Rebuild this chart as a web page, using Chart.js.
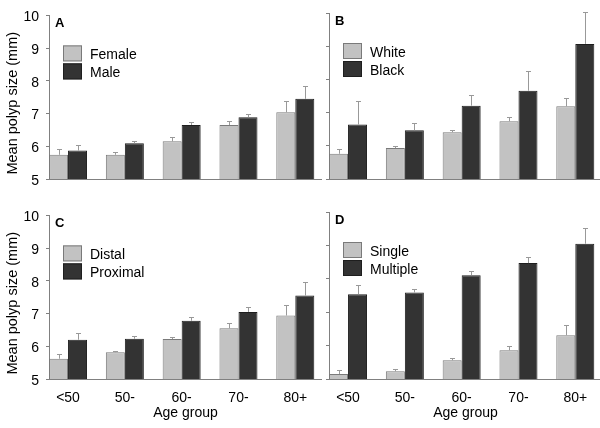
<!DOCTYPE html>
<html lang="en">
<head>
<meta charset="UTF-8">
<title>Mean polyp size by age group</title>
<script src="https://cdn.jsdelivr.net/npm/chart.js"></script>
<style>
  body { margin: 0; background: #fff; }
  .wrap { position: relative; width: 600px; height: 428px; overflow: hidden; }
  .wrap canvas { position: absolute; }
</style>
</head>
<body>
<div class="wrap">
  <canvas id="chartA" width="322" height="200" style="left:0;top:0"></canvas>
  <canvas id="chartB" width="322" height="200" style="left:280px;top:0"></canvas>
  <canvas id="chartC" width="322" height="228" style="left:0;top:200px"></canvas>
  <canvas id="chartD" width="322" height="228" style="left:280px;top:200px"></canvas>
</div>

<script>
const ageGroups = ['<50', '50-', '60-', '70-', '80+'];

// A: sex
const femaleMean = [5.74, 5.74, 6.15, 6.65, 7.04];
const femaleErr = [0.18, 0.10, 0.12, 0.12, 0.33];
const maleMean = [5.87, 6.09, 6.65, 6.89, 7.45];
const maleErr = [0.17, 0.08, 0.09, 0.11, 0.38];

// B: race
const whiteMean = [5.76, 5.93, 6.41, 6.74, 7.19];
const whiteErr = [0.13, 0.05, 0.06, 0.12, 0.24];
const blackMean = [6.64, 6.47, 7.21, 7.66, 9.07];
const blackErr = [0.70, 0.21, 0.31, 0.59, 0.97];

// C: location
const distalMean = [5.62, 5.82, 6.22, 6.55, 6.94];
const distalErr = [0.15, 0.04, 0.06, 0.15, 0.33];
const proximalMean = [6.20, 6.23, 6.78, 7.05, 7.55];
const proximalErr = [0.20, 0.09, 0.10, 0.15, 0.40];

// D: number of polyps
const singleMean = [5.15, 5.23, 5.56, 5.86, 6.31];
const singleErr = [0.12, 0.06, 0.06, 0.12, 0.30];
const multipleMean = [7.54, 7.59, 8.11, 8.47, 9.05];
const multipleErr = [0.27, 0.10, 0.13, 0.18, 0.47];

const LIGHT = '#c2c2c2', LIGHT_EDGE = '#7a7a7a';
const DARK = '#333333', DARK_EDGE = '#1e1e1e';
const AXIS = '#808080';

Chart.defaults.font.family = 'Arial, "Liberation Sans", sans-serif';
Chart.defaults.font.size = 14;
Chart.defaults.color = '#000';

function toPoints(values) {
    return values.map((v, i) => ({ x: i, y: v }));
}

function extras(letter) {
    return {
        id: 'extras' + letter,
        afterDatasetsDraw(chart) {
            // error bars (upper half only)
            const { ctx } = chart;
            const y = chart.scales.y;
            ctx.save();
            ctx.strokeStyle = '#999';
            ctx.lineWidth = 1;
            chart.data.datasets.forEach((ds, i) => {
                chart.getDatasetMeta(i).data.forEach((bar, j) => {
                    const x = Math.round(bar.x) + 0.5;
                    const y0 = y.getPixelForValue(ds.data[j].y);
                    const y1 = Math.round(y.getPixelForValue(ds.data[j].y + ds.errors[j])) + 0.5;
                    ctx.beginPath();
                    ctx.moveTo(x, y0);
                    ctx.lineTo(x, y1);
                    ctx.moveTo(x - 2.5, y1);
                    ctx.lineTo(x + 2.5, y1);
                    ctx.stroke();
                });
            });
            ctx.restore();
        },
        afterDraw(chart) {
            const { ctx, chartArea } = chart;
            ctx.save();
            ctx.fillStyle = '#000';
            ctx.font = 'bold 13px Arial, "Liberation Sans", sans-serif';
            ctx.textBaseline = 'middle';
            ctx.fillText(letter, chartArea.left + 6, chartArea.top + 8);

            ctx.font = '14px Arial, "Liberation Sans", sans-serif';
            chart.data.datasets.forEach((ds, i) => {
                const bx = chartArea.left + 14;
                const by = chartArea.top + 30 + i * 18;
                ctx.fillStyle = ds.backgroundColor;
                ctx.fillRect(bx, by, 19, 16);
                ctx.strokeStyle = ds.borderColor;
                ctx.lineWidth = 1;
                ctx.strokeRect(bx + 0.5, by + 0.5, 18, 15);
                ctx.fillStyle = '#000';
                ctx.fillText(ds.label, bx + 27, by + 10);
            });
            ctx.restore();
        }
    };
}

function makePanel(id, letter, names, means, errs, showYLabels, showX) {
    const ctx = document.getElementById(id).getContext('2d');
    const colors = [[LIGHT, LIGHT_EDGE], [DARK, DARK_EDGE]];
    return new Chart(ctx, {
        type: 'bar',
        data: {
            datasets: names.map((name, i) => ({
                label: name,
                data: toPoints(means[i]),
                errors: errs[i],
                backgroundColor: colors[i][0],
                borderColor: colors[i][1],
                borderWidth: 1,
                categoryPercentage: 0.669,
                barPercentage: 1
            }))
        },
        options: {
            responsive: false,
            animation: false,
            layout: { padding: { top: showX ? 12 : 13, left: 0, right: 0, bottom: 0 } },
            plugins: { legend: { display: false }, tooltip: { enabled: false } },
            scales: {
                x: {
                    type: 'linear',
                    offset: false,
                    min: -0.335,
                    max: 4.47,
                    afterBuildTicks: s => { s.ticks = ageGroups.map((_, i) => ({ value: i })); },
                    afterFit: s => { s.height = showX ? 49 : 21; },
                    grid: { display: false, offset: false },
                    border: { display: true, color: AXIS, width: 1 },
                    ticks: {
                        display: showX,
                        autoSkip: false,
                        maxRotation: 0,
                        padding: 3,
                        callback: v => ageGroups[v]
                    },
                    title: {
                        display: showX,
                        text: 'Age group',
                        padding: { top: 4, bottom: 6 }
                    }
                },
                y: {
                    min: 5,
                    max: 10,
                    afterFit: s => { s.width = 49; },
                    grid: { drawOnChartArea: false, drawTicks: true, tickLength: 3, color: AXIS },
                    border: { display: true, color: AXIS, width: 1 },
                    ticks: { display: showYLabels, stepSize: 1, padding: 7, labelOffset: 2 },
                    title: {
                        display: showYLabels,
                        text: 'Mean polyp size (mm)   ',
                        font: { size: 14.5 },
                        padding: { top: 4, bottom: 0 }
                    }
                }
            }
        },
        plugins: [extras(letter)]
    });
}

makePanel('chartA', 'A', ['Female', 'Male'], [femaleMean, maleMean], [femaleErr, maleErr], true, false);
makePanel('chartB', 'B', ['White', 'Black'], [whiteMean, blackMean], [whiteErr, blackErr], false, false);
makePanel('chartC', 'C', ['Distal', 'Proximal'], [distalMean, proximalMean], [distalErr, proximalErr], true, true);
makePanel('chartD', 'D', ['Single', 'Multiple'], [singleMean, multipleMean], [singleErr, multipleErr], false, true);
</script>
</body>
</html>
